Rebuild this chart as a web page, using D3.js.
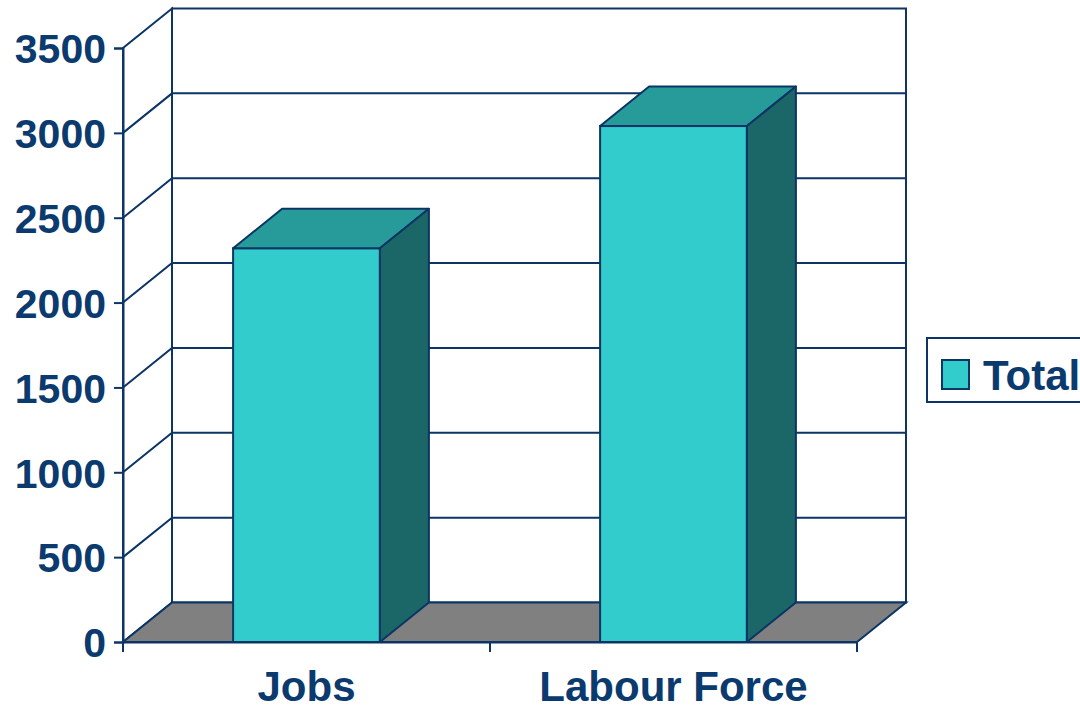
<!DOCTYPE html>
<html>
<head>
<meta charset="utf-8">
<script src="https://cdn.jsdelivr.net/npm/d3@7"></script>
<style>
  body { margin: 0; background: #fff; }
  svg { display: block; font-family: "Liberation Sans", Arial, sans-serif; font-weight: bold; }
</style>
</head>
<body>
<div id="chart"></div>
<script>
// data
const categories = ["Jobs", "Labour Force"];
const totals = [2320, 3040];
const yTicks = [0, 500, 1000, 1500, 2000, 2500, 3000, 3500];
const seriesName = "Total";

const width = 1080, height = 710;
const line = "#0c3566", ink = "#0a3a6e";
const frontFill = "#33cccc", topFill = "#279a9a", sideFill = "#1b6666", floorFill = "#808080";

// 3d depth offset
const dx = 49, dy = -39.5;

const x = d3.scaleBand()
    .domain(categories)
    .range([123, 857])
    .padding(0);

const y = d3.scaleLinear()
    .domain([0, 3500])
    .range([642, 48]);

const svg = d3.select("#chart")
    .append("svg")
    .attr("width", width)
    .attr("height", height);

const x0 = x.range()[0], x1 = x.range()[1];
const yb = y(0), yt = y(3500);

// back wall
svg.append("rect")
    .attr("x", x0 + dx)
    .attr("y", yt + dy)
    .attr("width", x1 - x0)
    .attr("height", yb - yt)
    .attr("fill", "#fff")
    .attr("stroke", line)
    .attr("stroke-width", 2);

// left wall
svg.append("polygon")
    .attr("points", [[x0, yb], [x0 + dx, yb + dy], [x0 + dx, yt + dy], [x0, yt]].join(" "))
    .attr("fill", "#fff")
    .attr("stroke", line)
    .attr("stroke-width", 2);

// gridlines (left wall diagonal + back wall horizontal)
svg.append("g")
    .selectAll("path")
    .data(yTicks.filter(d => d > 0 && d < 3500))
    .join("path")
    .attr("d", d => `M${x0},${y(d)}L${x0 + dx},${y(d) + dy}L${x1 + dx},${y(d) + dy}`)
    .attr("fill", "none")
    .attr("stroke", line)
    .attr("stroke-width", 2);

// floor
svg.append("polygon")
    .attr("points", [[x0, yb], [x1, yb], [x1 + dx, yb + dy], [x0 + dx, yb + dy]].join(" "))
    .attr("fill", floorFill)
    .attr("stroke", line)
    .attr("stroke-width", 2);

// bars
const data = categories.map((c, i) => ({ cat: c, value: totals[i] }));
const bw = x.bandwidth() * 0.4;

const bars = svg.append("g")
    .selectAll("g")
    .data(data)
    .join("g");

bars.append("rect")
    .attr("x", d => x(d.cat) + (x.bandwidth() - bw) / 2)
    .attr("y", d => y(d.value))
    .attr("width", bw)
    .attr("height", d => yb - y(d.value))
    .attr("fill", frontFill)
    .attr("stroke", line)
    .attr("stroke-width", 2);

bars.append("polygon")
    .attr("points", d => {
        const l = x(d.cat) + (x.bandwidth() - bw) / 2, r = l + bw, t = y(d.value);
        return [[l, t], [l + dx, t + dy], [r + dx, t + dy], [r, t]].join(" ");
    })
    .attr("fill", topFill)
    .attr("stroke", line)
    .attr("stroke-width", 2)
    .attr("stroke-linejoin", "round");

bars.append("polygon")
    .attr("points", d => {
        const r = x(d.cat) + (x.bandwidth() + bw) / 2, t = y(d.value);
        return [[r, t], [r + dx, t + dy], [r + dx, yb + dy], [r, yb]].join(" ");
    })
    .attr("fill", sideFill)
    .attr("stroke", line)
    .attr("stroke-width", 2)
    .attr("stroke-linejoin", "round");

// Y axis
const yAxis = svg.append("g")
    .attr("transform", `translate(${x0},0)`)
    .call(d3.axisLeft(y).tickValues(yTicks).tickSize(9).tickPadding(8).tickFormat(d3.format("d")));
yAxis.select(".domain").attr("stroke", line).attr("stroke-width", 2);
yAxis.selectAll(".tick line").attr("stroke", line).attr("stroke-width", 2);
yAxis.selectAll(".tick text")
    .attr("fill", ink)
    .style("font-size", "41px")
    .attr("dy", "0.36em");

// X axis
const xAxis = svg.append("g")
    .attr("transform", `translate(0,${yb})`)
    .call(d3.axisBottom(x).tickSize(0).tickPadding(29));
xAxis.select(".domain").attr("stroke", line).attr("stroke-width", 2);
xAxis.selectAll(".tick text")
    .attr("fill", ink)
    .style("font-size", "42px");

// category boundary ticks
svg.append("g")
    .selectAll("line")
    .data(categories.map(c => x(c)).concat([x1]))
    .join("line")
    .attr("x1", d => d).attr("x2", d => d)
    .attr("y1", yb).attr("y2", yb + 10)
    .attr("stroke", line)
    .attr("stroke-width", 2);

// legend
const legend = svg.append("g");
legend.append("rect")
    .attr("x", 927).attr("y", 338)
    .attr("width", 170).attr("height", 64)
    .attr("fill", "#fff")
    .attr("stroke", line)
    .attr("stroke-width", 2);
legend.append("rect")
    .attr("x", 942).attr("y", 360)
    .attr("width", 27).attr("height", 29)
    .attr("fill", frontFill)
    .attr("stroke", line)
    .attr("stroke-width", 2);
legend.append("text")
    .attr("x", 983).attr("y", 390)
    .attr("fill", ink)
    .style("font-size", "42px")
    .text(seriesName);
</script>
</body>
</html>
